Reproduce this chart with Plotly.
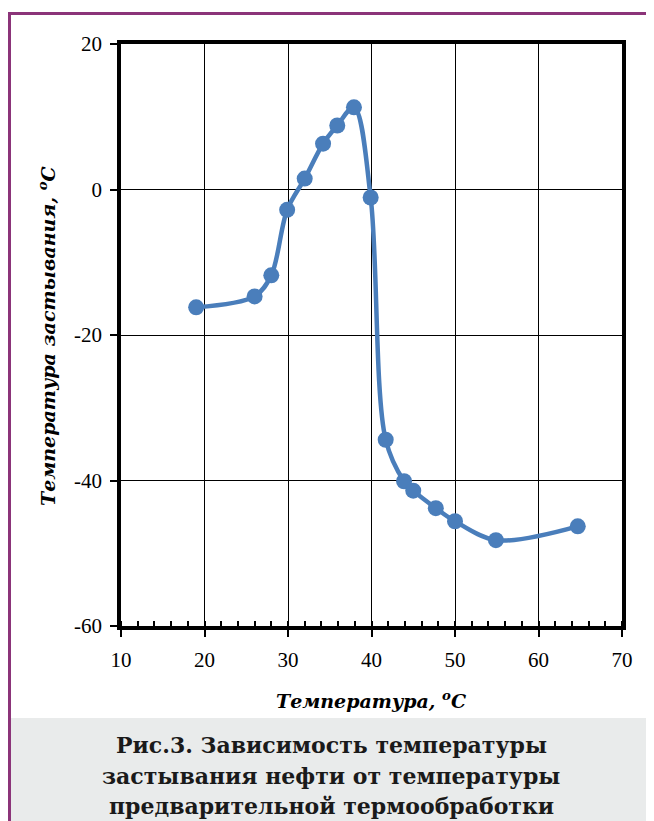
import plotly.graph_objects as go

# Data
treat_temp = [19.0, 26.0, 28.0, 29.9, 32.0, 34.2, 35.9, 37.9, 39.9, 41.7, 43.9, 45.0, 47.7, 50.0, 54.9, 64.7]
pour_point = [-16.2, -14.7, -11.8, -2.8, 1.5, 6.3, 8.8, 11.3, -1.1, -34.4, -40.1, -41.4, -43.8, -45.6, -48.2, -46.3]

x_ticks = [10, 20, 30, 40, 50, 60, 70]
y_ticks = [-60, -40, -20, 0, 20]
y_ticktext = ["-60", "-40", "-20", "0", "20"]

x_title = "Температура, <sup>o</sup>C"
y_title = "Температура застывания, <sup>o</sup>C"
caption_lines = [
    "Рис.3. Зависимость температуры",
    "застывания нефти от температуры",
    "предварительной термообработки",
]

# page offset from default body margin (8px)
OFF = 8
W, H = 654 - OFF, 821 - OFF
L, R, T, B = 121 - OFF, 622 - OFF, 44 - OFF, 626 - OFF
pw, ph = R - L, B - T

def px(x):
    return (x - OFF - L) / pw

def py(y):
    return (B - (y - OFF)) / ph

blue = "#4A7EBB"

fig = go.Figure()
fig.add_trace(go.Scatter(
    x=treat_temp, y=pour_point, mode="lines+markers",
    line=dict(color=blue, width=4.5, shape="spline", smoothing=0.95),
    marker=dict(color=blue, size=16),
    showlegend=False, cliponaxis=False,
))

axis_font = dict(family="Liberation Serif, Times New Roman, serif", size=21, color="black")

fig.update_xaxes(
    range=[10, 70], tickvals=x_ticks,
    showgrid=True, gridcolor="black", gridwidth=1,
    showline=True, linecolor="black", linewidth=3.5, mirror=True,
    ticks="outside", ticklen=7, tickwidth=1.5, tickcolor="black",
    minor=dict(ticks="inside", dtick=2, ticklen=5, tickwidth=1.5, tickcolor="black", showgrid=False),
    tickfont=axis_font, zeroline=False, ticklabelstandoff=5,
)
fig.update_yaxes(
    range=[-60, 20], tickvals=y_ticks, ticktext=y_ticktext,
    showgrid=True, gridcolor="black", gridwidth=1,
    showline=True, linecolor="black", linewidth=3.5, mirror=True,
    ticks="outside", ticklen=7, tickwidth=1.5, tickcolor="black",
    tickfont=axis_font, zeroline=False, ticklabelstandoff=4,
)

shapes = [
    # gray caption background
    dict(type="rect", xref="paper", yref="paper", x0=px(11), x1=px(670), y0=py(835), y1=py(718),
         fillcolor="#E9EBEB", line=dict(width=0), layer="below"),
    # purple frame: left and top
    dict(type="line", xref="paper", yref="paper", x0=px(9.5), x1=px(9.5), y0=py(12), y1=py(835),
         line=dict(color="#8B3479", width=3)),
    dict(type="line", xref="paper", yref="paper", x0=px(8), x1=px(670), y0=py(13.5), y1=py(13.5),
         line=dict(color="#8B3479", width=3)),
]

title_font = dict(family="DejaVu Serif, serif", size=19, color="black")
annotations = [
    dict(text="<b><i>" + x_title + "</i></b>", xref="paper", yref="paper",
         x=px(371), y=py(700), showarrow=False, font=title_font, xanchor="center", yanchor="middle"),
    dict(text="<b><i>" + y_title + "</i></b>", xref="paper", yref="paper",
         x=px(47), y=py(336), showarrow=False, font=title_font, textangle=-90,
         xanchor="center", yanchor="middle"),
]
cap_font = dict(family="DejaVu Serif, serif", size=22, color="#1a1a1a")
for line, yy in zip(caption_lines, [745, 776, 806]):
    annotations.append(dict(text="<b>" + line + "</b>", xref="paper", yref="paper",
                            x=px(331), y=py(yy), showarrow=False, font=cap_font,
                            xanchor="center", yanchor="middle"))

fig.update_layout(
    width=W, height=H,
    margin=dict(l=L, r=W - R, t=T, b=H - B, pad=0),
    paper_bgcolor="white", plot_bgcolor="white",
    shapes=shapes, annotations=annotations,
)

fig.write_html("out.html")
